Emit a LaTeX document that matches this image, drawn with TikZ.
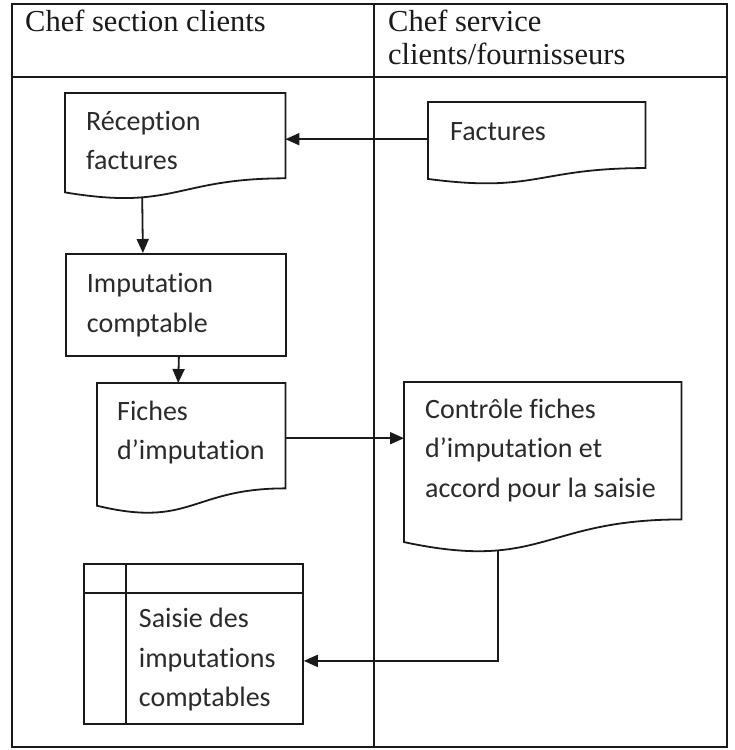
\documentclass[tikz,border=0pt]{standalone}
\usepackage{fontspec}
\setmainfont{Liberation Serif}
\newfontfamily\bodyfont[Ligatures=NoCommon]{Carlito}
\usetikzlibrary{calc,arrows.meta}

% box contents: width, height, space above first baseline, left indent, lines
\newcommand{\cellbox}[5]{\parbox[t][#2][t]{#1}{\raggedright\leftskip=#4\relax
  \vspace*{\dimexpr#3-30pt\relax}\rule{0pt}{30pt}#5}}

\definecolor{ink}{HTML}{1A1A1A}
\definecolor{txt}{HTML}{2A2A2A}

\tikzset{
  x=1pt, y=1pt,
  frame/.style={draw=ink, line width=1.7pt},
  shapeline/.style={draw=ink, line width=1.8pt},
  hdr/.style={inner sep=0pt, text=ink, font=\fontsize{30.5}{33.5}\selectfont, align=left},
  doc/.style={inner sep=0pt, anchor=north west, text=txt, font=\bodyfont\fontsize{28}{39.5}\selectfont},
  proc/.style={doc, shapeline},
  arr/.style={draw=ink, line width=1.8pt, -{Triangle[length=14pt,width=12pt]}}
}

\begin{document}
\begin{tikzpicture}
\useasboundingbox (0,0) rectangle (735,750);

% swimlane table
\draw[frame] (12,3) rectangle (727,746);
\draw[frame] (12,673) -- (727,673);
\draw[frame] (374,746) -- (374,3);

% lane headings
\node[hdr, anchor=base west] (h1) at (25,718) {Chef section clients};
\node[hdr, anchor=base west] (h2) at (388,685) {Chef service\\clients/fournisseurs};

% left lane
\node[doc] (rec) at (65,657) {\cellbox{220pt}{106pt}{37pt}{21pt}{Réception\\factures}};
\node[proc] (imp) at (65,497) {\cellbox{220pt}{102pt}{39pt}{21pt}{Imputation\\comptable}};
\node[doc] (fic) at (97,367) {\cellbox{188pt}{131pt}{37pt}{20pt}{Fiches\\d’imputation}};
\node[proc] (sai) at (83,187) {\cellbox{219pt}{160pt}{64pt}{55pt}{Saisie des\\imputations\\comptables}};

% right lane
\node[doc] (fac) at (428,648) {\cellbox{217pt}{82pt}{38pt}{22pt}{Factures}};
\node[doc] (con) at (404,368) {\cellbox{277pt}{171pt}{36pt}{21pt}{Contrôle fiches\\d’imputation et\\accord pour la saisie}};

% document outlines with a wavy lower edge
\foreach \nd in {rec,fac,fic,con}
  \draw[shapeline] let \p1=(\nd.north west), \p2=(\nd.south east), \n1={\y1-\y2} in
    (\p1) -- (\x2,\y1) -- (\x2,{\y1-0.802*\n1})
    .. controls ({(\x1+\x2)/2},{\y1-0.802*\n1}) and ({(\x1+\x2)/2},{\y1-1.1075*\n1}) ..
    (\x1,{\y1-0.934*\n1}) -- cycle;

% input/output record strips
\draw[shapeline] ([yshift=-30pt]sai.north west) -- ([yshift=-30pt]sai.north east);
\draw[shapeline] ([xshift=43pt]sai.north west) -- ([xshift=43pt]sai.south west);

% flows
\draw[arr] ([yshift=4pt]fac.west) -- ([yshift=7pt]rec.east);
\draw[arr] ([xshift=-33pt,yshift=2pt]rec.south) -- ([xshift=-33pt]imp.north);
\draw[arr] ([xshift=3pt]imp.south) -- ([xshift=-13pt]fic.north);
\draw[arr] ([yshift=10.5pt]fic.east) -- ([yshift=29.5pt]con.west);
\draw[arr] ([xshift=-44.5pt,yshift=3pt]con.south) |- ([yshift=-17pt]sai.east);
\end{tikzpicture}
\end{document}
